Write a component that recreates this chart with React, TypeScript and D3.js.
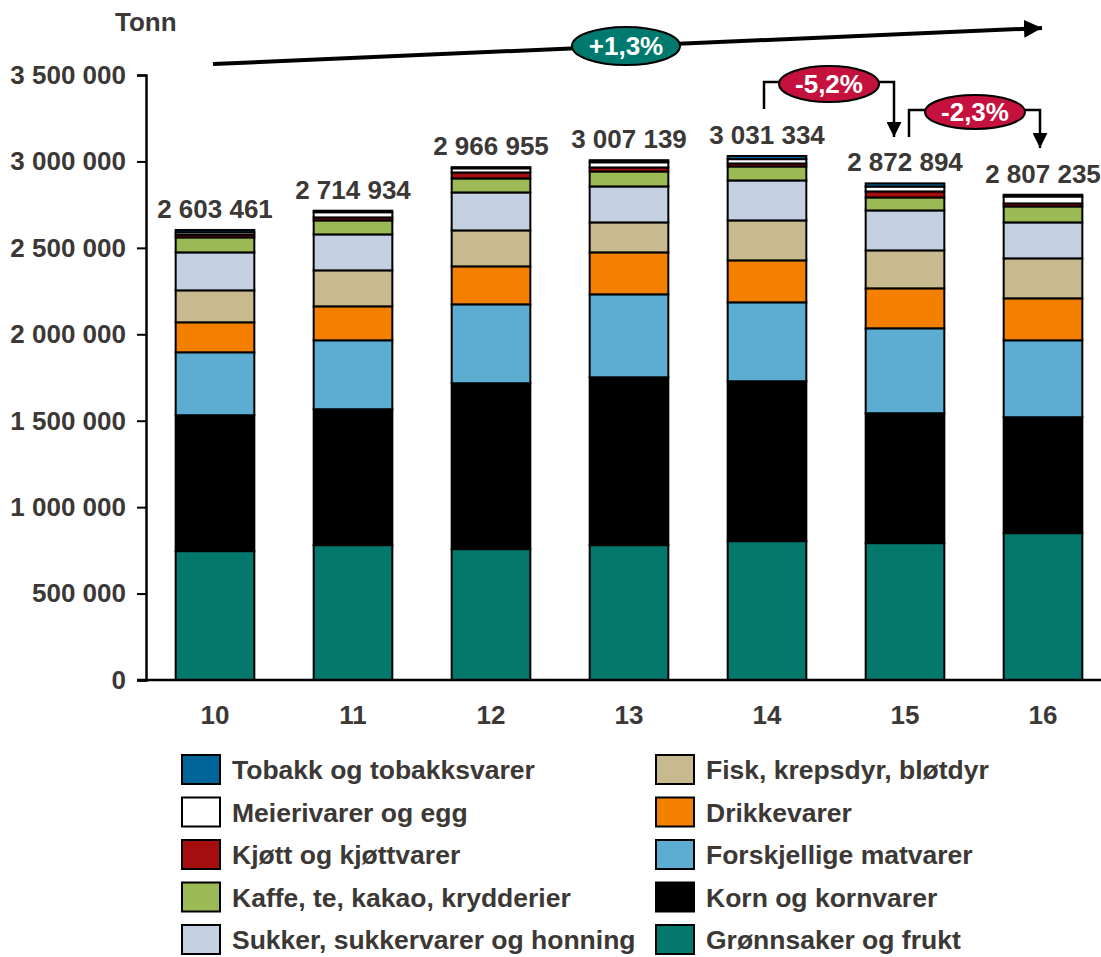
import React, { useEffect, useRef } from "react";
import * as d3 from "d3";

const years = ["10", "11", "12", "13", "14", "15", "16"];
const totals = [2603461, 2714934, 2966955, 3007139, 3031334, 2872894, 2807235];

// series, bottom of the stack first
const gronnsaker = [745600, 780300, 757200, 780300, 803400, 791900, 849700];
const korn = [786100, 786100, 959500, 971000, 924800, 751400, 670400];
const forskjellige = [364100, 398800, 456600, 479800, 456600, 491300, 445100];
const drikke = [173400, 196500, 219600, 242700, 242800, 231200, 242800];
const fisk = [185000, 208100, 208100, 173400, 231200, 219600, 231200];
const sukker = [219600, 208100, 219600, 208100, 231200, 231200, 208000];
const kaffe = [86700, 80900, 81000, 86700, 80900, 75100, 92500];
const kjott = [16000, 17300, 34600, 23100, 17400, 34700, 17400];
const meieri = [14000, 30000, 24000, 30000, 25000, 28000, 40000];
const tobakk = [12961, 8834, 6755, 12039, 18034, 18494, 10135];

const yTicks = [0, 500000, 1000000, 1500000, 2000000, 2500000, 3000000, 3500000];

const series = [
    { key: "gronnsaker", name: "Grønnsaker og frukt", values: gronnsaker, color: "#05786E" },
    { key: "korn", name: "Korn og kornvarer", values: korn, color: "#000000" },
    { key: "forskjellige", name: "Forskjellige matvarer", values: forskjellige, color: "#5DADD3" },
    { key: "drikke", name: "Drikkevarer", values: drikke, color: "#F58000" },
    { key: "fisk", name: "Fisk, krepsdyr, bløtdyr", values: fisk, color: "#C8BA8E" },
    { key: "sukker", name: "Sukker, sukkervarer og honning", values: sukker, color: "#C4CFE1" },
    { key: "kaffe", name: "Kaffe, te, kakao, krydderier", values: kaffe, color: "#9BBA55" },
    { key: "kjott", name: "Kjøtt og kjøttvarer", values: kjott, color: "#A50E0E" },
    { key: "meieri", name: "Meierivarer og egg", values: meieri, color: "#FFFFFF" },
    { key: "tobakk", name: "Tobakk og tobakksvarer", values: tobakk, color: "#006699" },
];

const legendLeft = ["tobakk", "meieri", "kjott", "kaffe", "sukker"];
const legendRight = ["fisk", "drikke", "forskjellige", "korn", "gronnsaker"];

const App = () => {
    const svgRef = useRef(null);

    useEffect(() => {
        const width = 1101, height = 957;
        const font = "'Liberation Sans', Arial, sans-serif";
        const textColor = "#3b3836";
        const fs = 26;

        const svg = d3.select(svgRef.current)
            .attr("width", width)
            .attr("height", height);
        svg.selectAll("*").remove();

        const x0 = 146, y0 = 680;
        const xScale = d3.scaleBand()
            .domain(years)
            .range([x0, x0 + 7 * 138])
            .paddingInner(0.43)
            .paddingOuter(0.215);
        const yScale = d3.scaleLinear()
            .domain([0, 3500000])
            .range([y0, 75]);

        const fmt = d3.formatLocale({ thousands: " ", grouping: [3], decimal: ",", currency: ["", ""] }).format(",d");

        const table = years.map((y, i) => {
            const row = { year: y };
            series.forEach(s => { row[s.key] = s.values[i]; });
            return row;
        });
        const stacked = d3.stack().keys(series.map(s => s.key))(table);

        // y axis
        const yAxis = svg.append("g").attr("transform", `translate(${x0},0)`)
            .call(d3.axisLeft(yScale).tickValues(yTicks).tickSize(9).tickFormat(d => fmt(d)));
        yAxis.select(".domain").attr("stroke", "#000").attr("stroke-width", 2.5);
        yAxis.selectAll(".tick line").attr("stroke", "#000").attr("stroke-width", 2);
        yAxis.selectAll(".tick text")
            .attr("x", -20)
            .attr("font-family", font)
            .attr("font-weight", "bold")
            .attr("font-size", fs)
            .attr("fill", textColor);

        svg.append("text")
            .attr("x", 115).attr("y", 31)
            .attr("font-family", font).attr("font-weight", "bold").attr("font-size", fs)
            .attr("fill", textColor)
            .text("Tonn");

        // bars
        const layers = svg.append("g");
        stacked.forEach((layer, li) => {
            layers.append("g").selectAll("rect")
                .data(layer)
                .enter()
                .append("rect")
                .attr("x", d => xScale(d.data.year))
                .attr("y", d => yScale(d[1]))
                .attr("width", xScale.bandwidth())
                .attr("height", d => yScale(d[0]) - yScale(d[1]))
                .attr("fill", series[li].color)
                .attr("stroke", "#000")
                .attr("stroke-width", 2);
        });

        // x axis line
        svg.append("line")
            .attr("x1", x0 - 9).attr("x2", width)
            .attr("y1", y0).attr("y2", y0)
            .attr("stroke", "#000").attr("stroke-width", 2.5);

        svg.append("g").selectAll("text")
            .data(years)
            .enter()
            .append("text")
            .attr("x", d => xScale(d) + xScale.bandwidth() / 2)
            .attr("y", 724)
            .attr("text-anchor", "middle")
            .attr("font-family", font).attr("font-weight", "bold").attr("font-size", fs)
            .attr("fill", textColor)
            .text(d => d);

        // totals
        svg.append("g").selectAll("text")
            .data(totals)
            .enter()
            .append("text")
            .attr("x", (d, i) => xScale(years[i]) + xScale.bandwidth() / 2)
            .attr("y", d => yScale(d) - 12)
            .attr("text-anchor", "middle")
            .attr("font-family", font).attr("font-weight", "bold").attr("font-size", fs)
            .attr("fill", textColor)
            .text(d => fmt(d));

        // annotations
        const defs = svg.append("defs");
        const marker = (id, size) => {
            defs.append("marker")
                .attr("id", id)
                .attr("viewBox", "0 0 10 10")
                .attr("refX", 10).attr("refY", 5)
                .attr("markerWidth", size).attr("markerHeight", size)
                .attr("markerUnits", "strokeWidth")
                .attr("orient", "auto")
                .append("path")
                .attr("d", "M0,0 L10,5 L0,10 Z")
                .attr("fill", "#000");
        };
        marker("arrowBig", 4.5);
        marker("arrowSmall", 6);

        svg.append("line")
            .attr("x1", 213).attr("y1", 64).attr("x2", 1042).attr("y2", 28)
            .attr("stroke", "#000").attr("stroke-width", 4)
            .attr("marker-end", "url(#arrowBig)");

        const badge = (cx, cy, rx, ry, fill, label) => {
            svg.append("ellipse")
                .attr("cx", cx).attr("cy", cy).attr("rx", rx).attr("ry", ry)
                .attr("fill", fill).attr("stroke", "#000").attr("stroke-width", 2);
            svg.append("text")
                .attr("x", cx).attr("y", cy + 9)
                .attr("text-anchor", "middle")
                .attr("font-family", font).attr("font-weight", "bold").attr("font-size", fs)
                .attr("fill", "#fff")
                .text(label);
        };
        badge(626, 46, 54, 19, "#007A6E", "+1,3%");

        const bracket = (xa, ya, xb, yb, yTop) => {
            svg.append("path")
                .attr("d", `M${xa},${ya} V${yTop} H${xb} V${yb}`)
                .attr("fill", "none").attr("stroke", "#000").attr("stroke-width", 2.5)
                .attr("marker-end", "url(#arrowSmall)");
        };
        bracket(764, 109, 894, 137, 82);
        badge(829, 84, 50, 18, "#C5113D", "-5,2%");
        bracket(909, 137, 1040, 148, 110);
        badge(975, 112, 50, 17, "#C5113D", "-2,3%");

        // legend
        const byKey = {};
        series.forEach(s => { byKey[s.key] = s; });
        const legendCol = (keys, sx) => {
            const g = svg.append("g").selectAll("g")
                .data(keys)
                .enter()
                .append("g")
                .attr("transform", (d, i) => `translate(${sx},${755 + i * 42.5})`);
            g.append("rect")
                .attr("width", 38).attr("height", 29)
                .attr("fill", d => byKey[d].color)
                .attr("stroke", "#000").attr("stroke-width", 2);
            g.append("text")
                .attr("x", 50).attr("y", 24)
                .attr("font-family", font).attr("font-weight", "bold").attr("font-size", 26.5)
                .attr("fill", textColor)
                .text(d => byKey[d].name);
        };
        legendCol(legendLeft, 182);
        legendCol(legendRight, 656);
    }, []);

    return <svg ref={svgRef} style={{ position: "absolute", left: 0, top: 0 }}></svg>;
};

export default App;
